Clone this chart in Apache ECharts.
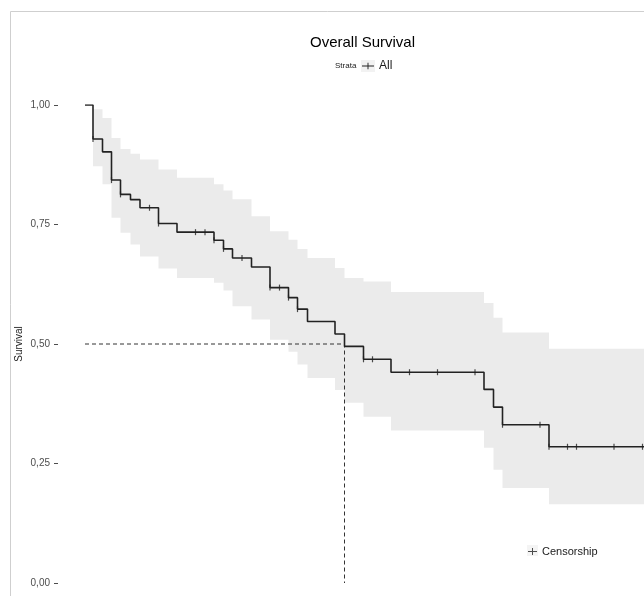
<!DOCTYPE html>
<html>
<head>
<meta charset="utf-8">
<script src="https://cdn.jsdelivr.net/npm/echarts@6/dist/echarts.min.js"></script>
<style>
html,body{margin:0;padding:0;background:#fff;}
#chart{width:644px;height:596px;}
</style>
</head>
<body>
<div id="chart"></div>
<script>
// ---- data (time in arbitrary units, survival probability) ----
const stepTimes = [0, 1.6, 3.5, 5.3, 7.1, 9.1, 11.0, 14.7, 18.4, 25.8, 27.7, 29.5, 33.3, 37.0, 40.7, 42.5, 44.5, 50.0, 51.9, 55.7, 61.2, 79.8, 81.7, 83.5, 92.8];
const survival  = [1, 0.929, 0.902, 0.843, 0.813, 0.802, 0.785, 0.752, 0.734, 0.717, 0.699, 0.680, 0.661, 0.618, 0.597, 0.573, 0.547, 0.521, 0.495, 0.468, 0.441, 0.405, 0.368, 0.331, 0.285];
const upperCI   = [1, 0.991, 0.973, 0.931, 0.908, 0.898, 0.886, 0.865, 0.848, 0.834, 0.821, 0.803, 0.767, 0.736, 0.718, 0.699, 0.680, 0.659, 0.638, 0.631, 0.609, 0.586, 0.555, 0.524, 0.490];
const lowerCI   = [1, 0.872, 0.834, 0.764, 0.733, 0.708, 0.683, 0.658, 0.638, 0.628, 0.612, 0.579, 0.551, 0.509, 0.484, 0.457, 0.429, 0.404, 0.377, 0.348, 0.319, 0.283, 0.237, 0.199, 0.165];
const censorTimes = [1.6, 5.3, 7.1, 12.9, 14.7, 22.1, 24.0, 25.8, 27.7, 31.4, 37.0, 38.9, 40.7, 42.5, 55.7, 57.5, 64.9, 70.5, 78.0, 83.5, 91.0, 92.8, 96.5, 98.3, 105.8, 111.5];
const followUpEnd = 111.8;
const medianTime = 51.9;
const medianLevel = 0.5;
const yTicks = [0, 0.25, 0.5, 0.75, 1];

// ---- helpers ----
function survAt(t) {
  let s = survival[0];
  for (let i = 0; i < stepTimes.length; i++) { if (stepTimes[i] <= t + 1e-9) s = survival[i]; }
  return s;
}
const curveData = stepTimes.map((t, i) => [t, survival[i]]).concat([[followUpEnd, survival[survival.length - 1]]]);
const censorData = censorTimes.map(t => [t, survAt(t)]);
const medianData = [[0, medianLevel], [medianTime, medianLevel], [medianTime, 0]];

const FONT = "'Liberation Sans', Arial, Helvetica, sans-serif";
const chart = echarts.init(document.getElementById('chart'), null, {renderer: 'canvas'});

const option = {
  animation: false,
  backgroundColor: '#ffffff',
  title: {
    text: 'Overall Survival',
    left: 310, top: 35, padding: 0,
    textStyle: {fontFamily: FONT, fontSize: 15, fontWeight: 'normal', color: '#000'}
  },
  legend: [
    {
      data: ['All'], left: 362, top: 60, padding: 0,
      itemWidth: 12, itemHeight: 7, itemGap: 4,
      icon: 'path://M0,3h6v-3h1v3h6v1h-6v3h-1v-3h-6z',
      textStyle: {fontFamily: FONT, fontSize: 12, color: '#1a1a1a'}
    },
    {
      data: ['Censorship'], left: 528, top: 546, padding: 0,
      itemWidth: 9, itemHeight: 7,
      icon: 'path://M0,3h4v-3h1v3h4v1h-4v3h-1v-3h-4z',
      textStyle: {fontFamily: FONT, fontSize: 11, color: '#1a1a1a'}
    }
  ],
  graphic: [
    {type: 'rect', shape: {x: 10.5, y: 11.5, width: 800, height: 800}, style: {fill: 'none', stroke: '#cfcfcf', lineWidth: 1}, z: -10, silent: true},
    {type: 'text', x: 335, y: 66, style: {text: 'Strata', font: '8px ' + FONT, fill: '#1a1a1a', textVerticalAlign: 'middle'}},
    {type: 'rect', shape: {x: 361, y: 60, width: 14, height: 12}, style: {fill: '#f2f2f2'}, z: -1},
    {type: 'rect', shape: {x: 527, y: 545, width: 11, height: 11}, style: {fill: '#f4f4f4'}, z: -1}
  ],
  grid: {left: 58, right: 0, top: 105, bottom: 13, containLabel: false},
  xAxis: {
    type: 'value', min: -5.4, max: followUpEnd,
    axisLine: {show: false, onZero: false}, axisTick: {show: false}, axisLabel: {show: false}, splitLine: {show: false}
  },
  yAxis: {
    type: 'value', min: 0, max: 1, interval: 0.25,
    name: 'Survival', nameLocation: 'middle', nameGap: 34, nameMoveOverlap: false,
    nameTextStyle: {fontFamily: FONT, fontSize: 10, color: '#1a1a1a'},
    axisLine: {show: false, onZero: false},
    axisTick: {show: true, length: 4, lineStyle: {color: '#4d4d4d', width: 1}},
    axisLabel: {
      margin: 8, fontFamily: FONT, fontSize: 10, color: '#4d4d4d',
      formatter: v => yTicks.indexOf(v) >= 0 ? v.toFixed(2).replace('.', ',') : ''
    },
    splitLine: {show: false}
  },
  series: [
    {
      name: 'CI', type: 'custom', silent: true, clip: true, z: 1,
      data: [[0, 0]],
      renderItem: function (params, api) {
        const up = [], lo = [];
        for (let i = 0; i < stepTimes.length; i++) {
          const t0 = stepTimes[i];
          const t1 = i + 1 < stepTimes.length ? stepTimes[i + 1] : followUpEnd;
          up.push(api.coord([t0, upperCI[i]]), api.coord([t1, upperCI[i]]));
          lo.push(api.coord([t0, lowerCI[i]]), api.coord([t1, lowerCI[i]]));
        }
        const pts = up.concat(lo.reverse());
        return {type: 'polygon', shape: {points: pts}, style: {fill: '#ebebeb', stroke: null}};
      }
    },
    {
      name: 'Median', type: 'line', data: medianData, symbol: 'none', silent: true, z: 3,
      lineStyle: {color: '#333', width: 1, type: [4, 3]}
    },
    {
      name: 'All', type: 'line', step: 'end', data: curveData, symbol: 'none', z: 4,
      color: '#222', lineStyle: {color: '#222', width: 1.6}
    },
    {
      name: 'Censorship', type: 'scatter', data: censorData, z: 5,
      symbol: 'rect', symbolSize: [1.2, 6], color: '#222', itemStyle: {color: '#222'}
    }
  ]
};
chart.setOption(option);
</script>
</body>
</html>
